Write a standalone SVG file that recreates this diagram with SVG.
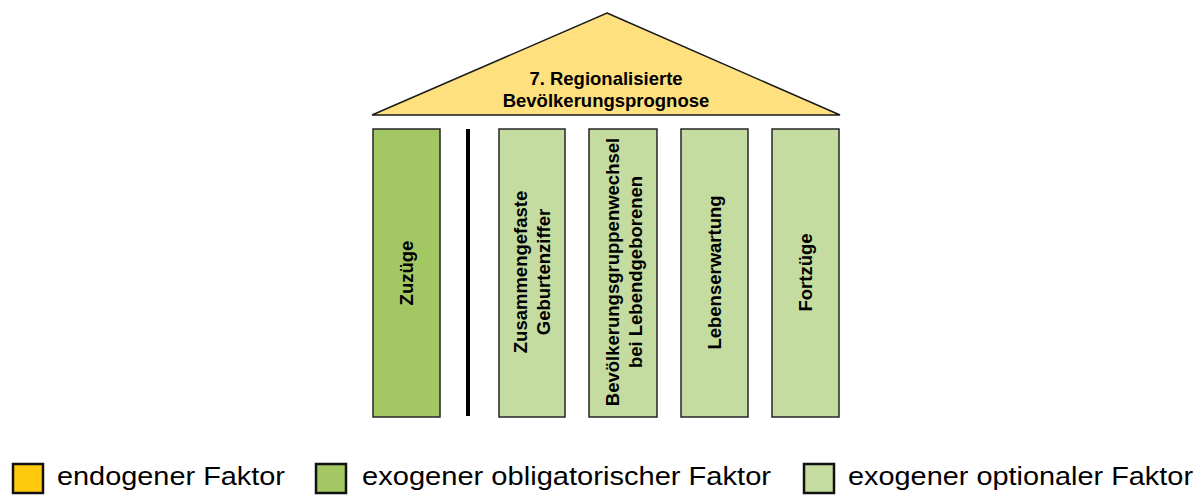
<svg xmlns="http://www.w3.org/2000/svg" width="1200" height="501" viewBox="0 0 1200 501">
<style>
.roof{fill:#FFE07F;stroke:#1a1a1a;stroke-width:1.5}
.obl{fill:#A3C763;stroke:#262626;stroke-width:1.5}
.opt{fill:#C4DCA0;stroke:#262626;stroke-width:1.5}
.endo{fill:#FFC90E;stroke:#111;stroke-width:2.5}
.lobl{fill:#A3C763;stroke:#111;stroke-width:2.5}
.lopt{fill:#C4DCA0;stroke:#111;stroke-width:2.5}
.t{font-family:"Liberation Sans",Arial,sans-serif;font-weight:bold;font-size:18.5px;fill:#000;text-anchor:middle}
.lg{font-family:"Liberation Sans",Arial,sans-serif;font-size:25px;fill:#000}
</style>
<rect width="1200" height="501" fill="#fff"/>
<g id="roof">
<polygon class="roof" points="607,13 840,115 372,115"/>
<text class="t" x="606" y="85">7. Regionalisierte</text>
<text class="t" x="606" y="107">Bevölkerungsprognose</text>
</g>
<g id="pillar-zuzuege">
<rect class="obl" x="373" y="129" width="67" height="288"/>
<text class="t" transform="translate(413,273) rotate(-90)">Zuzüge</text>
</g>
<g id="separator">
<line x1="468" y1="129" x2="468" y2="416" stroke="#000" stroke-width="4"/>
</g>
<g id="pillar-geburtenziffer">
<rect class="opt" x="499" y="129" width="66" height="288"/>
<text class="t" transform="translate(527,272) rotate(-90)">Zusammengefaste</text>
<text class="t" transform="translate(550,272) rotate(-90)">Geburtenziffer</text>
</g>
<g id="pillar-bevoelkerungsgruppenwechsel">
<rect class="opt" x="589" y="129" width="68" height="288"/>
<text class="t" transform="translate(618.5,272) rotate(-90)">Bevölkerungsgruppenwechsel</text>
<text class="t" transform="translate(641.5,272) rotate(-90)">bei Lebendgeborenen</text>
</g>
<g id="pillar-lebenserwartung">
<rect class="opt" x="681" y="129" width="67" height="288"/>
<text class="t" transform="translate(721,272.5) rotate(-90)">Lebenserwartung</text>
</g>
<g id="pillar-fortzuege">
<rect class="opt" x="772" y="129" width="67" height="288"/>
<text class="t" transform="translate(811.5,272.5) rotate(-90)">Fortzüge</text>
</g>
<g id="connectors"></g>
<g id="legend">
<g id="legend-endogen">
<rect class="endo" x="13" y="464" width="30" height="29"/>
<text class="lg" x="57" y="485" textLength="228" lengthAdjust="spacingAndGlyphs">endogener Faktor</text>
</g>
<g id="legend-obligatorisch">
<rect class="lobl" x="316" y="464" width="30" height="29"/>
<text class="lg" x="362" y="485" textLength="409" lengthAdjust="spacingAndGlyphs">exogener obligatorischer Faktor</text>
</g>
<g id="legend-optional">
<rect class="lopt" x="804" y="464" width="30" height="29"/>
<text class="lg" x="848" y="485" textLength="345" lengthAdjust="spacingAndGlyphs">exogener optionaler Faktor</text>
</g>
</g>
</svg>
